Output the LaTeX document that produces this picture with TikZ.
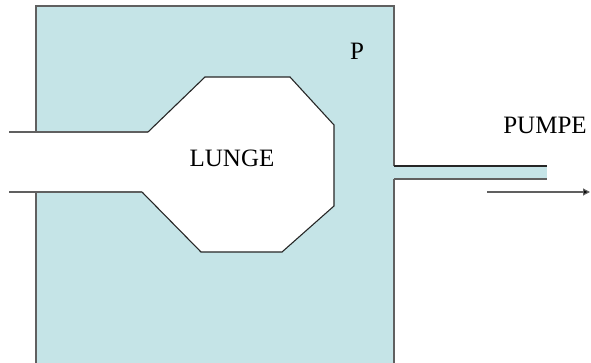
\documentclass[tikz,border=0pt]{standalone}
\usepackage{fontspec}
\setmainfont{Liberation Serif}
\usetikzlibrary{arrows.meta}
\definecolor{chamber}{RGB}{197,228,231}
\definecolor{wallgrey}{RGB}{96,96,96}
\begin{document}
\begin{tikzpicture}[x=1pt,y=-1pt,
  wall/.style={draw=wallgrey,line width=1.3pt},
  lungline/.style={draw=black!85,line width=1.1pt,line join=miter},
  tubeline/.style={draw=wallgrey,line width=1.2pt},
  caption/.style={font=\fontsize{25}{30}\selectfont,inner sep=0pt,anchor=base}]
\useasboundingbox (0,0) rectangle (591,363);
% pressure chamber and the outlet pipe
\fill[chamber] (36,6) rectangle (394,363);
\fill[chamber] (394,166) rectangle (547,179);
% lung cavity with its airway
\fill[white] (9,132) -- (148,132) -- (205,77) -- (290,77) -- (334,125)
  -- (334,206) -- (282,252) -- (201,252) -- (142,192) -- (9,192) -- cycle;
% chamber walls
\draw[wall] (36,363) -- (36,192);
\draw[wall] (36,132) -- (36,6) -- (394,6) -- (394,166);
\draw[wall] (394,179) -- (394,363);
% airway and lung outline
\draw[tubeline] (9,132) -- (148,132);
\draw[lungline] (148,132) -- (205,77) -- (290,77) -- (334,125)
  -- (334,206) -- (282,252) -- (201,252) -- (142,192);
\draw[tubeline] (142,192) -- (9,192);
% outlet pipe
\draw[lungline] (394,166) -- (547,166);
\draw[tubeline] (394,179) -- (547,179);
% flow direction
\coordinate (flowstart) at (487,192);
\coordinate (flowend) at (590,192);
\draw[draw=wallgrey,line width=1.2pt,-{Triangle[length=7pt,width=7pt,fill=black]}] (flowstart) -- (flowend);
% labels
\node[caption] (lunge) at (232,167) {LUNGE};
\node[caption] (pumpe) at (545,134) {PUMPE};
\node[caption] (druck) at (357,60) {P};
\end{tikzpicture}
\end{document}
